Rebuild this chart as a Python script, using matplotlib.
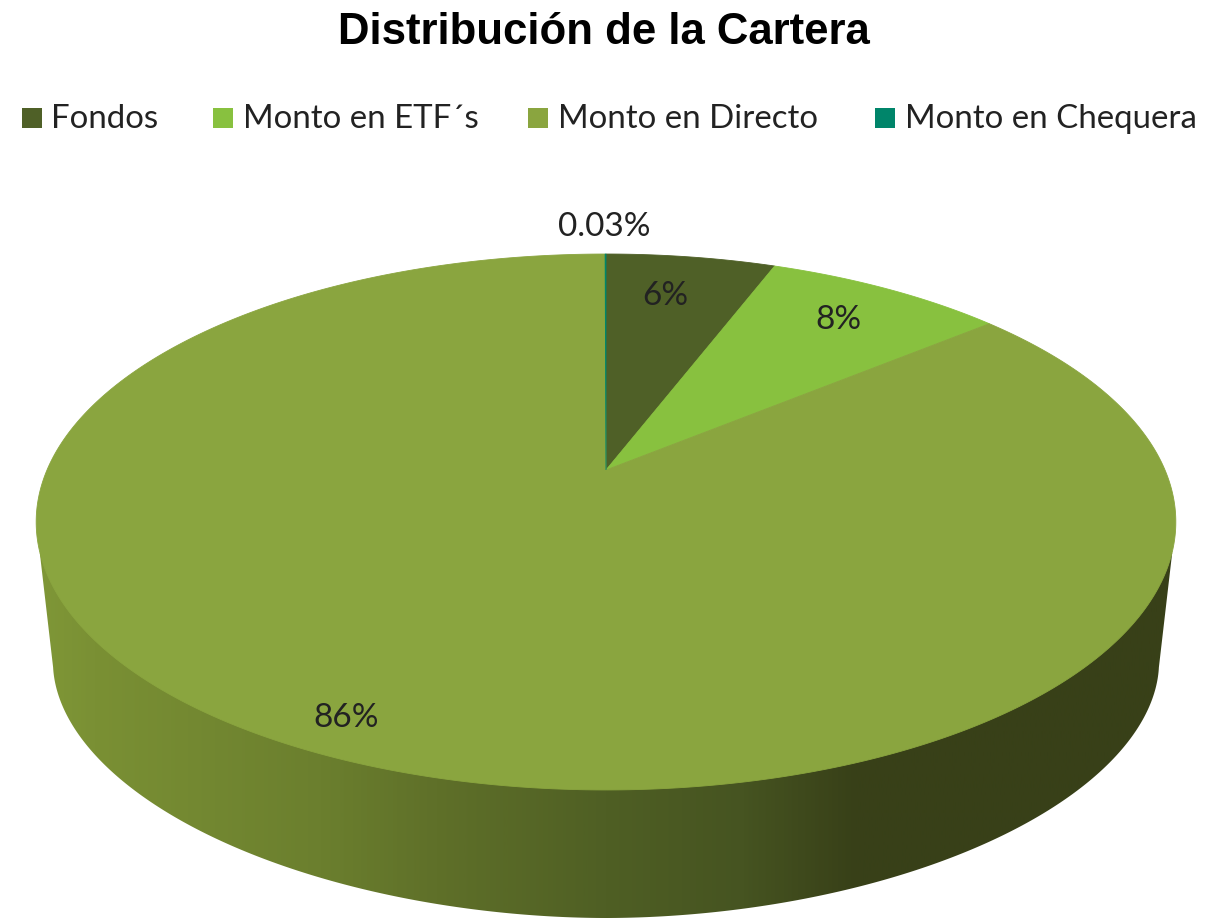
import numpy as np
import matplotlib
matplotlib.use('Agg')
import matplotlib.pyplot as plt
from matplotlib.colors import LinearSegmentedColormap
from matplotlib.patches import PathPatch, Polygon, Rectangle
from matplotlib.path import Path

# chart data
title = 'Distribución de la Cartera'
categories = ['Fondos', 'Monto en ETF´s', 'Monto en Directo', 'Monto en Chequera']
values = [5.8, 8.2, 85.97, 0.03]
value_labels = ['6%', '8%', '86%', '0.03%']

# style
colors = ['#4f6027', '#88c13f', '#8aa53f', '#00856a']
legend_x = [22, 213, 528, 875]
legend_text_x = [51, 243, 558, 905]
label_pos = [(665, 296), (838, 320), (346, 718), (604, 227)]

W, H = 1209, 919
cx, apex_y = 606, 470
top_a, top_b, top_cy = 570, 268, 522
low_a, low_b, low_cy = 553, 255, 663
low_n = 1.92

# perspective of the pie top : unit circle -> screen
persp = 0.194
persp_a = -166.7
persp_s = 559


def to_screen(theta):
    u, v = np.sin(theta), np.cos(theta)
    d = persp * v + 1
    return cx + persp_s * u / d, (persp_a * v + apex_y) / d


def side_path():
    t_top, t_low = 0.116, 0.02
    t = np.linspace(t_low, np.pi - t_low, 400)
    c, s = np.cos(t), np.sin(t)
    x = cx + low_a * np.sign(c) * np.abs(c) ** (2 / low_n)
    y = low_cy + low_b * s ** (2 / low_n)
    pts = [(cx + top_a * np.cos(t_top), top_cy + top_b * np.sin(t_top))]
    pts += list(zip(x, y))
    pts += [(cx - top_a * np.cos(t_top), top_cy + top_b * np.sin(t_top))]
    return Path(pts + [pts[0]], closed=True)


def main():
    fig = plt.figure(figsize=(W / 100, H / 100), dpi=100)
    ax = fig.add_axes([0, 0, 1, 1])

    # side of the pie with horizontal gradient
    stops = [(0.0, '#7f9737'), (0.05, '#7a9034'), (0.25, '#6b7f2e'), (0.35, '#5f7029'),
             (0.50, '#4f5f24'), (0.62, '#465421'), (0.72, '#384018'), (1.0, '#384018')]
    cmap = LinearSegmentedColormap.from_list('side', stops)
    grad = np.linspace(0, 1, 600).reshape(1, -1)
    im = ax.imshow(grad, cmap=cmap, extent=(36, 1176, H, 0), aspect='auto')
    patch = PathPatch(side_path(), facecolor='none', edgecolor='none')
    ax.add_patch(patch)
    im.set_clip_path(patch)

    # slices of the pie top
    start = 0.0
    total = sum(values)
    for value, color in zip(values, colors):
        end = start + value / total * 2 * np.pi
        t = np.linspace(start, end, max(int(value * 8), 4))
        x, y = to_screen(t)
        pts = [(cx, apex_y)] + list(zip(x, y))
        ax.add_patch(Polygon(pts, closed=True, facecolor=color, edgecolor=color, linewidth=0.6))
        start = end

    for text, (x, y) in zip(value_labels, label_pos):
        ax.text(x, y, text, ha='center', va='center', fontsize=24, color='#222222', family='Lato')

    # legend
    for name, color, x, text_x in zip(categories, colors, legend_x, legend_text_x):
        ax.add_patch(Rectangle((x, 108), 20, 19.5, facecolor=color, edgecolor='none'))
        ax.text(text_x, 118.5, name, ha='left', va='center', fontsize=23.8, color='#222222', family='Lato')

    ax.text(604, 33, title, ha='center', va='center', fontsize=31.5, fontweight='bold',
            color='black', family='Liberation Sans')

    ax.set_xlim(0, W)
    ax.set_ylim(H, 0)
    ax.axis('off')
    fig.savefig('out.png', dpi=100, facecolor='white')


if __name__ == '__main__':
    main()
